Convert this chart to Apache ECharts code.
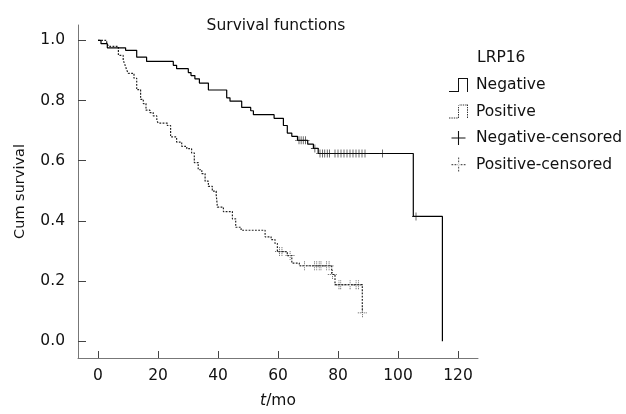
<!DOCTYPE html>
<html>
<head>
<meta charset="utf-8">
<script src="https://cdn.jsdelivr.net/npm/echarts@6/dist/echarts.min.js"></script>
<style>
html,body{margin:0;padding:0;background:#fff;}
#c{width:626px;height:414px;}
</style>
</head>
<body>
<div id="c"></div>
<script>
// ---- data ----
const negTime = [0, 1, 3.1, 9.2, 12.9, 16.2, 25.1, 26.2, 30.1, 31.0, 32.3, 33.8, 36.8, 42.9, 44.0, 47.9, 50.9, 51.8, 58.7, 61.8, 63.1, 64.6, 66.5, 69.9, 71.8, 73.4, 105.1, 114.8];
const negSurv = [1.0, 0.989, 0.975, 0.967, 0.944, 0.930, 0.917, 0.906, 0.893, 0.883, 0.872, 0.858, 0.835, 0.809, 0.798, 0.777, 0.766, 0.753, 0.741, 0.717, 0.692, 0.681, 0.668, 0.655, 0.641, 0.624, 0.415, 0.0];

const posTime = [0, 2.9, 3.5, 6.8, 8.4, 9.0, 9.6, 10.1, 12.0, 12.9, 14.2, 15.1, 16.0, 17.3, 18.4, 19.6, 20.1, 23.1, 24.2, 26.2, 27.9, 29.6, 31.2, 32.1, 33.4, 34.6, 35.7, 36.8, 38.1, 39.4, 39.8, 41.8, 44.8, 45.9, 47.7, 55.7, 57.7, 59.0, 59.8, 63.1, 64.6, 67.1, 77.9, 79.0, 88.1];
const posSurv = [1.0, 0.991, 0.980, 0.950, 0.934, 0.918, 0.901, 0.890, 0.874, 0.836, 0.804, 0.790, 0.768, 0.760, 0.749, 0.733, 0.725, 0.717, 0.679, 0.662, 0.648, 0.640, 0.626, 0.594, 0.570, 0.557, 0.532, 0.515, 0.499, 0.488, 0.446, 0.431, 0.407, 0.379, 0.369, 0.347, 0.338, 0.325, 0.298, 0.285, 0.260, 0.251, 0.222, 0.188, 0.095];

const negCensTime = [67.0, 67.7, 68.4, 69.2, 72.3, 74.0, 74.8, 75.6, 76.4, 77.2, 79, 80, 81, 82, 83, 84, 85, 86, 87, 88, 89, 94.9, 106];
const negCensSurv = [0.668, 0.668, 0.668, 0.668, 0.641, 0.624, 0.624, 0.624, 0.624, 0.624, 0.624, 0.624, 0.624, 0.624, 0.624, 0.624, 0.624, 0.624, 0.624, 0.624, 0.624, 0.624, 0.415];

const posCensTime = [60.5, 61.3, 64.0, 68.8, 72.1, 72.9, 73.7, 74.3, 76.2, 77.0, 78.1, 80.3, 80.9, 84.0, 86.0, 86.8, 88.1];
const posCensSurv = [0.298, 0.298, 0.285, 0.251, 0.251, 0.251, 0.251, 0.251, 0.251, 0.251, 0.222, 0.188, 0.188, 0.188, 0.188, 0.188, 0.095];

const xTicks = [0, 20, 40, 60, 80, 100, 120];
const yTicks = [0.0, 0.2, 0.4, 0.6, 0.8, 1.0];
const seriesNames = ['Negative', 'Positive', 'Negative-censored', 'Positive-censored'];
const legendTitle = 'LRP16';
const chartTitle = 'Survival functions';
const xName = 't/mo';
const yName = 'Cum survival';

// ---- helpers ----
function zip(a, b) { return a.map((v, i) => [v, b[i]]); }
const FONT = 'DejaVu Sans';

// dashed path builder for icons (decorative glyphs)
function dashPath(segs, dash, gap, th) {
  let p = '';
  segs.forEach(([x1, y1, x2, y2]) => {
    if (y1 === y2) {
      const a = Math.min(x1, x2), b = Math.max(x1, x2);
      for (let x = a; x < b; x += dash + gap) {
        const w = Math.min(dash, b - x);
        p += 'M' + x + ',' + y1 + 'h' + w + 'v' + th + 'h' + (-w) + 'z';
      }
    } else {
      const a = Math.min(y1, y2), b = Math.max(y1, y2);
      for (let y = a; y < b; y += dash + gap) {
        const h = Math.min(dash, b - y);
        p += 'M' + x1 + ',' + y + 'v' + h + 'h' + th + 'v' + (-h) + 'z';
      }
    }
  });
  return 'path://' + p;
}
const stepSegs = [[0, 13, 9, 13], [9, 0, 9, 14], [9, 0, 18, 0], [18, 0, 18, 14]];
const iconNeg = 'path://M0,13h10v1h-10zM9,0h1v14h-1zM9,0h10v1h-10zM18,0h1v14h-1z';
const iconPos = dashPath(stepSegs, 1.4, 1.0, 1);
const plusSolid = 'path://M0,6h13v1h-13zM6,0h1v13h-1z';
const plusDotted = dashPath([[0, 6, 13, 6], [6, 0, 6, 13]], 1.6, 1.2, 1);

const chart = echarts.init(document.getElementById('c'), null, {renderer: 'canvas'});
const option = {
  animation: false,
  backgroundColor: '#fff',
  textStyle: {fontFamily: FONT},
  grid: {left: 78, right: 148, top: 25, bottom: 50, containLabel: false},
  graphic: [
    {type: 'text', x: 276, y: 26, style: {text: chartTitle, font: '15.5px "DejaVu Sans"', fill: '#111', textAlign: 'center', textVerticalAlign: 'middle'}},
    {type: 'text', x: 477, y: 58, style: {text: legendTitle, font: '15.5px "DejaVu Sans"', fill: '#111', textAlign: 'left', textVerticalAlign: 'middle'}}
  ],
  legend: {
    orient: 'vertical',
    left: 444,
    top: 72,
    itemWidth: 19,
    itemHeight: 14,
    itemGap: 10.5,
    selectedMode: false,
    textStyle: {fontSize: 15.5, fontFamily: FONT, color: '#111', padding: [0, 0, 0, 3]},
    data: [
      {name: seriesNames[0], icon: iconNeg, itemStyle: {color: '#111', borderWidth: 0}},
      {name: seriesNames[1], icon: iconPos, itemStyle: {color: '#333', borderWidth: 0}},
      {name: seriesNames[2], icon: plusSolid, itemStyle: {color: '#111', borderWidth: 0}},
      {name: seriesNames[3], icon: plusDotted, itemStyle: {color: '#555', borderWidth: 0}}
    ]
  },
  xAxis: {
    type: 'value',
    min: -20 / 3,
    max: 380 / 3,
    axisLine: {show: true, onZero: false, lineStyle: {color: '#777', width: 1}},
    axisTick: {show: true, inside: true, length: 7, customValues: xTicks, lineStyle: {color: '#444'}},
    axisLabel: {customValues: xTicks, margin: 10, fontSize: 15.5, fontFamily: FONT, color: '#111', formatter: v => String(v)},
    splitLine: {show: false},
    name: '{it|t}/mo',
    nameLocation: 'middle',
    nameGap: 35,
    nameTextStyle: {fontSize: 15.5, fontFamily: FONT, color: '#111', rich: {it: {fontStyle: 'italic', fontSize: 15.5, fontFamily: FONT, color: '#111'}}}
  },
  yAxis: {
    type: 'value',
    min: -0.0555,
    max: 1.051,
    axisLine: {show: true, onZero: false, lineStyle: {color: '#777', width: 1}},
    axisTick: {show: true, inside: true, length: 8, customValues: yTicks, lineStyle: {color: '#444'}},
    axisLabel: {customValues: yTicks, margin: 13, fontSize: 15.5, fontFamily: FONT, color: '#111', formatter: v => v.toFixed(1)},
    splitLine: {show: false},
    name: yName,
    nameLocation: 'middle',
    nameGap: 50,
    nameTextStyle: {fontSize: 14.5, fontFamily: FONT, color: '#111'}
  },
  series: [
    {
      name: seriesNames[0], type: 'line', step: 'end', showSymbol: false, symbol: 'none',
      data: zip(negTime, negSurv),
      lineStyle: {color: '#000', width: 1.2},
      itemStyle: {color: '#111'}, z: 3
    },
    {
      name: seriesNames[1], type: 'line', step: 'end', showSymbol: false, symbol: 'none',
      data: zip(posTime, posSurv),
      lineStyle: {color: '#222', width: 1.2, type: [1.8, 1.4]},
      itemStyle: {color: '#333'}, z: 2
    },
    {
      name: seriesNames[2], type: 'scatter', symbol: plusSolid, symbolSize: 8,
      data: zip(negCensTime, negCensSurv),
      itemStyle: {color: '#111', opacity: 1}, z: 4
    },
    {
      name: seriesNames[3], type: 'scatter', symbol: plusDotted, symbolSize: 9,
      data: zip(posCensTime, posCensSurv),
      itemStyle: {color: '#444', opacity: 1}, z: 4
    }
  ]
};
chart.setOption(option);
</script>
</body>
</html>
